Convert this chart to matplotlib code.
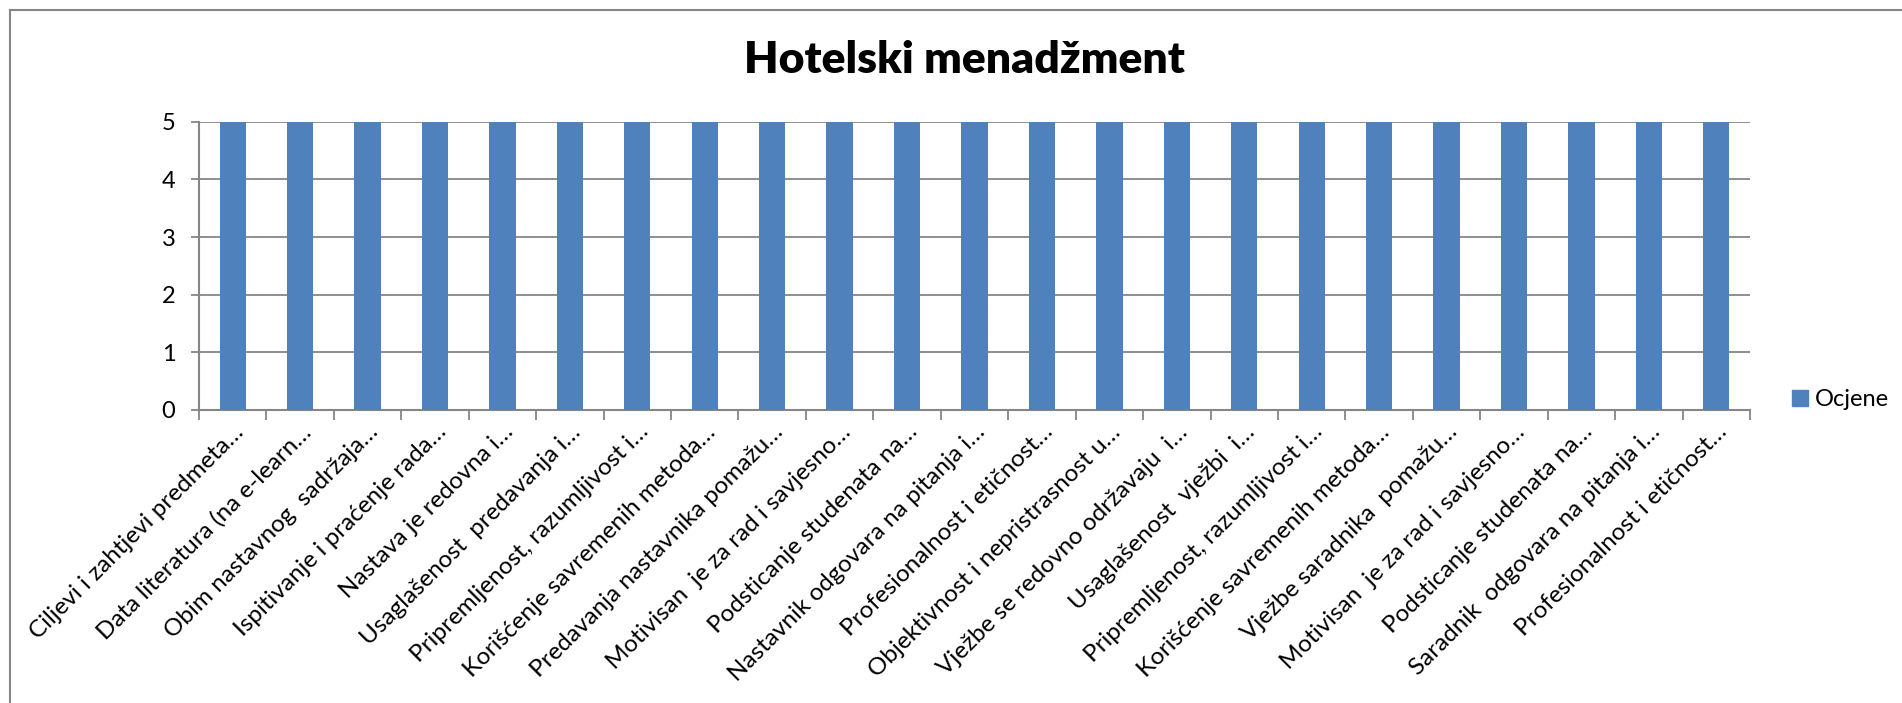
import matplotlib
matplotlib.use("Agg")
import matplotlib.pyplot as plt
from matplotlib.lines import Line2D
import numpy as np

plt.rcParams['font.family'] = ['Lato', 'DejaVu Sans']

title = "Hotelski menadžment"
series_name = "Ocjene"
categories = [
    "Ciljevi i zahtjevi predmeta…",
    "Data literatura (na e-learn…",
    "Obim nastavnog  sadržaja…",
    "Ispitivanje i praćenje rada…",
    "Nastava je redovna i…",
    "Usaglašenost  predavanja i…",
    "Pripremljenost, razumljivost i…",
    "Korišćenje savremenih metoda…",
    "Predavanja nastavnika pomažu…",
    "Motivisan  je za rad i savjesno…",
    "Podsticanje studenata na…",
    "Nastavnik odgovara na pitanja i…",
    "Profesionalnost i etičnost…",
    "Objektivnost i nepristrasnost u…",
    "Vježbe se redovno održavaju  i…",
    "Usaglašenost  vježbi  i…",
    "Pripremljenost, razumljivost i…",
    "Korišćenje savremenih metoda…",
    "Vježbe saradnika  pomažu…",
    "Motivisan  je za rad i savjesno…",
    "Podsticanje studenata na…",
    "Saradnik  odgovara na pitanja i…",
    "Profesionalnost i etičnost…",
]
values = [5, 5, 5, 5, 5, 5, 5, 5, 5, 5, 5, 5, 5, 5, 5, 5, 5, 5, 5, 5, 5, 5, 5]
yticks = [0, 1, 2, 3, 4, 5]

W, H = 1902, 703
fig = plt.figure(figsize=(W / 100, H / 100), dpi=100)
ax = fig.add_axes([199 / W, 1 - 410 / H, (1750 - 199) / W, (410 - 121.7) / H])

grey = "#868686"
x = np.arange(len(categories))
ax.bar(x, values, width=0.39, color="#4F81BD", zorder=3, label=series_name)

ax.set_xlim(-0.5, len(categories) - 0.5)
ax.set_ylim(0, 5)
ax.set_yticks(yticks)
ax.set_yticklabels([str(v) for v in yticks], fontsize=17)
ax.yaxis.grid(True, color=grey, linewidth=1.3, zorder=0)
ax.tick_params(axis='y', length=6, width=1.3, color=grey, pad=11)

ax.set_xticks(np.arange(len(categories) + 1) - 0.5)
ax.set_xticklabels([])
ax.tick_params(axis='x', length=7, width=1.3, color=grey, direction='out')
ax.set_xticks(x, minor=True)
ax.set_xticklabels(categories, minor=True, rotation=45, ha='right', va='top',
                   rotation_mode='anchor', fontsize=17.5)
ax.tick_params(axis='x', which='minor', length=0, pad=8)

for s in ['top', 'right']:
    ax.spines[s].set_visible(False)
for s in ['left', 'bottom']:
    ax.spines[s].set_color(grey)
    ax.spines[s].set_linewidth(1.5)

fig.text(964 / W, 1 - 60 / H, title, fontsize=32, fontweight='heavy',
         ha='center', va='center')

handle = Line2D([], [], marker='s', linestyle='none', markersize=11,
                markerfacecolor="#4F81BD", markeredgecolor="#4F81BD")
fig.legend([handle], [series_name], loc='center left',
           bbox_to_anchor=(1776 / W, 1 - 400 / H), frameon=False,
           fontsize=17, handletextpad=0.15, borderpad=0, handlelength=1.0)

# chart area border (top and left visible)
fig.add_artist(Line2D([10 / W, 10 / W], [0, 1 - 10 / H], transform=fig.transFigure,
                      color=grey, linewidth=1.5))
fig.add_artist(Line2D([10 / W, 1], [1 - 10 / H, 1 - 10 / H], transform=fig.transFigure,
                      color=grey, linewidth=1.5))

fig.savefig("out.png", dpi=100, facecolor="white")
